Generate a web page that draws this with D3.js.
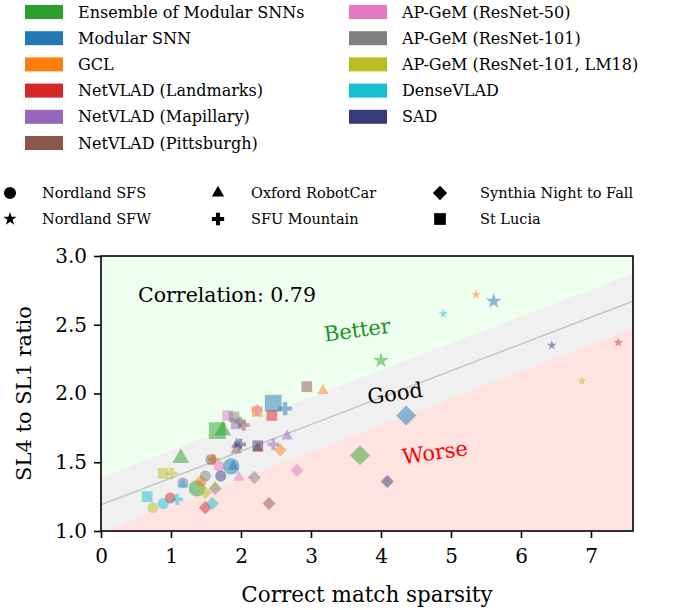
<!DOCTYPE html>
<html>
<head>
<meta charset="utf-8">
<script src="https://cdn.jsdelivr.net/npm/d3@7"></script>
<style>
  body { margin: 0; background: #fff; }
  text { font-family: "DejaVu Serif", serif; }
</style>
</head>
<body>
<div id="chart"></div>
<script>
// methods (colour legend)
const methods = ["Ensemble of Modular SNNs", "Modular SNN", "GCL", "NetVLAD (Landmarks)",
    "NetVLAD (Mapillary)", "NetVLAD (Pittsburgh)", "AP-GeM (ResNet-50)", "AP-GeM (ResNet-101)",
    "AP-GeM (ResNet-101, LM18)", "DenseVLAD", "SAD"];
const methodColors = ["#2ca02c", "#1f77b4", "#ff7f0e", "#d62728", "#9467bd", "#8c564b",
    "#e377c2", "#7f7f7f", "#bcbd22", "#17becf", "#393b79"];

// datasets (shape legend), listed row by row
const datasets = ["Nordland SFS", "Oxford RobotCar", "Synthia Night to Fall",
    "Nordland SFW", "SFU Mountain", "St Lucia"];

const xTicks = [0, 1, 2, 3, 4, 5, 6, 7];
const yTicks = [1.0, 1.5, 2.0, 2.5, 3.0];

// fit line
const fitIntercept = 1.19, fitSlope = 0.195, bandHalf = 0.2;
const correlation = 0.79;

// [method index, dataset, sparsity, ratio]
const points = [
    [0, "Nordland SFW", 4.00, 2.24],
    [0, "Synthia Night to Fall", 3.70, 1.55],
    [0, "St Lucia", 1.66, 1.73],
    [0, "Oxford RobotCar", 1.74, 1.73],
    [0, "Oxford RobotCar", 1.14, 1.53],
    [0, "Nordland SFS", 1.37, 1.31],
    [1, "Nordland SFW", 5.61, 2.67],
    [1, "Synthia Night to Fall", 4.36, 1.84],
    [1, "St Lucia", 2.46, 1.93],
    [1, "Nordland SFS", 1.86, 1.47],
    [1, "SFU Mountain", 2.63, 1.89],
    [1, "Oxford RobotCar", 1.89, 1.47],
    [2, "Nordland SFW", 5.36, 2.72],
    [2, "Oxford RobotCar", 3.17, 2.02],
    [2, "Synthia Night to Fall", 2.56, 1.59],
    [2, "St Lucia", 2.23, 1.87],
    [2, "Nordland SFS", 1.43, 1.36],
    [2, "SFU Mountain", 1.61, 1.52],
    [3, "Nordland SFW", 7.39, 2.37],
    [3, "St Lucia", 2.44, 1.84],
    [3, "Oxford RobotCar", 2.24, 1.60],
    [3, "Synthia Night to Fall", 1.49, 1.17],
    [3, "Nordland SFS", 0.99, 1.24],
    [4, "Oxford RobotCar", 2.66, 1.69],
    [4, "SFU Mountain", 2.46, 1.63],
    [4, "Synthia Night to Fall", 1.63, 1.31],
    [4, "Nordland SFS", 1.17, 1.35],
    [4, "St Lucia", 1.93, 1.78],
    [5, "St Lucia", 2.94, 2.05],
    [5, "Synthia Night to Fall", 2.40, 1.20],
    [5, "Nordland SFS", 1.57, 1.52],
    [5, "SFU Mountain", 2.04, 1.77],
    [5, "Oxford RobotCar", 1.93, 1.59],
    [6, "Synthia Night to Fall", 2.80, 1.44],
    [6, "Oxford RobotCar", 1.97, 1.39],
    [6, "Nordland SFS", 1.69, 1.47],
    [6, "St Lucia", 1.81, 1.84],
    [6, "SFU Mountain", 2.23, 1.88],
    [7, "Synthia Night to Fall", 2.19, 1.39],
    [7, "Nordland SFS", 1.49, 1.40],
    [7, "St Lucia", 1.90, 1.83],
    [7, "SFU Mountain", 1.99, 1.79],
    [8, "Nordland SFW", 6.87, 2.09],
    [8, "St Lucia", 0.89, 1.42],
    [8, "SFU Mountain", 1.01, 1.42],
    [8, "Nordland SFS", 0.74, 1.17],
    [8, "Synthia Night to Fall", 1.49, 1.28],
    [8, "Oxford RobotCar", 1.63, 1.32],
    [9, "Nordland SFW", 4.89, 2.58],
    [9, "St Lucia", 0.66, 1.25],
    [9, "Nordland SFS", 0.89, 1.20],
    [9, "SFU Mountain", 1.09, 1.23],
    [9, "Synthia Night to Fall", 1.59, 1.20],
    [9, "Oxford RobotCar", 1.17, 1.34],
    [10, "Nordland SFW", 6.44, 2.35],
    [10, "Synthia Night to Fall", 4.09, 1.36],
    [10, "Nordland SFS", 1.71, 1.40],
    [10, "St Lucia", 2.24, 1.62],
    [10, "Oxford RobotCar", 1.94, 1.63],
    [10, "SFU Mountain", 1.99, 1.63]
];

const WIDTH = 673, HEIGHT = 610;
const plot = { left: 101, right: 633, top: 256, bottom: 531 };

const svg = d3.select("#chart").append("svg")
    .attr("width", WIDTH).attr("height", HEIGHT);

const x = d3.scaleLinear().domain([0, 7.6]).range([plot.left, plot.right]);
const y = d3.scaleLinear().domain([1.0, 3.0]).range([plot.bottom, plot.top]);

// symbol per dataset, normal and large area
const shapeInfo = {
    "Nordland SFS": { type: d3.symbolCircle, size: 95, big: 210 },
    "Nordland SFW": { type: d3.symbolStar, size: 30, big: 78 },
    "Oxford RobotCar": { type: d3.symbolTriangle, size: 55, big: 125 },
    "SFU Mountain": { type: d3.symbolCross, size: 70, big: 100 },
    "Synthia Night to Fall": { type: d3.symbolSquare, size: 85, big: 200, rot: 45 },
    "St Lucia": { type: d3.symbolSquare, size: 115, big: 280 }
};

// ---- background regions ----
svg.append("clipPath").attr("id", "plotClip")
    .append("rect")
    .attr("x", plot.left).attr("y", plot.top)
    .attr("width", plot.right - plot.left).attr("height", plot.bottom - plot.top);

const regions = svg.append("g").attr("clip-path", "url(#plotClip)");
const xs = [0, 7.6];
const lineAt = (v, off) => fitIntercept + fitSlope * v + off;

regions.append("rect")
    .attr("x", plot.left).attr("y", plot.top)
    .attr("width", plot.right - plot.left).attr("height", plot.bottom - plot.top)
    .attr("fill", "#efffef");

const poly = (off) => [[x(xs[0]), y(lineAt(xs[0], off))], [x(xs[1]), y(lineAt(xs[1], off))],
    [x(xs[1]), plot.bottom + 5], [x(xs[0]), plot.bottom + 5]];

regions.append("polygon")
    .attr("points", poly(bandHalf).map(p => p.join(",")).join(" "))
    .attr("fill", "#f0f0f0");
regions.append("polygon")
    .attr("points", poly(-bandHalf).map(p => p.join(",")).join(" "))
    .attr("fill", "#ffe3e0");

regions.append("line")
    .attr("x1", x(xs[0])).attr("y1", y(lineAt(xs[0], 0)))
    .attr("x2", x(xs[1])).attr("y2", y(lineAt(xs[1], 0)))
    .attr("stroke", "#c4c4c4").attr("stroke-width", 1.5);

// ---- region labels ----
const labelAngle = -8;
const regionLabels = [
    { text: "Better", vx: 3.66, vy: 2.46, color: "#1a961a" },
    { text: "Good", vx: 4.20, vy: 2.00, color: "#000" },
    { text: "Worse", vx: 4.77, vy: 1.57, color: "#ff0000" }
];
svg.append("g").selectAll("text")
    .data(regionLabels)
    .join("text")
    .attr("transform", d => `translate(${x(d.vx)},${y(d.vy)}) rotate(${labelAngle})`)
    .attr("text-anchor", "middle")
    .attr("dominant-baseline", "central")
    .attr("font-size", 21)
    .attr("fill", d => d.color)
    .text(d => d.text);

svg.append("text")
    .attr("x", 138).attr("y", 302)
    .attr("font-size", 20.5)
    .text(`Correlation: ${correlation}`);

// ---- points ----
const symbolPath = (d) => {
    const info = shapeInfo[d[1]];
    const big = d[0] <= 1 && !(d[0] === 1 && d[1] === "Oxford RobotCar");
    return d3.symbol().type(info.type).size(big ? info.big : info.size)();
};

svg.append("g").selectAll("path")
    .data(points)
    .join("path")
    .attr("d", symbolPath)
    .attr("transform", d => {
        const rot = shapeInfo[d[1]].rot || 0;
        return `translate(${x(d[2])},${y(d[3])}) rotate(${rot})`;
    })
    .attr("fill", d => methodColors[d[0]])
    .attr("fill-opacity", 0.5);

// ---- axes ----
const axisX = d3.axisBottom(x).tickValues(xTicks).tickFormat(d3.format("d"))
    .tickSize(7).tickPadding(11);
const axisY = d3.axisLeft(y).tickValues(yTicks).tickFormat(d3.format(".1f"))
    .tickSize(7).tickPadding(7);

const gx = svg.append("g").attr("transform", `translate(0,${plot.bottom})`).call(axisX);
const gy = svg.append("g").attr("transform", `translate(${plot.left},0)`).call(axisY);
[gx, gy].forEach(g => {
    g.select(".domain").remove();
    g.selectAll(".tick line").attr("stroke", "#000").attr("stroke-width", 1.6);
    g.selectAll(".tick text").attr("font-size", 20).attr("fill", "#000")
        .attr("font-family", "DejaVu Serif");
});

svg.append("rect")
    .attr("x", plot.left).attr("y", plot.top)
    .attr("width", plot.right - plot.left).attr("height", plot.bottom - plot.top)
    .attr("fill", "none").attr("stroke", "#000").attr("stroke-width", 1.6);

svg.append("text")
    .attr("x", (plot.left + plot.right) / 2).attr("y", 602)
    .attr("text-anchor", "middle").attr("font-size", 21.5)
    .text("Correct match sparsity");

svg.append("text")
    .attr("transform", `translate(31,${(plot.top + plot.bottom) / 2}) rotate(-90)`)
    .attr("text-anchor", "middle").attr("font-size", 21)
    .text("SL4 to SL1 ratio");

// ---- colour legend ----
const colLegend = svg.append("g");
const legendItems = colLegend.selectAll("g")
    .data(methods)
    .join("g")
    .attr("transform", (d, i) => i < 6
        ? `translate(25,${12 + i * 26.2})`
        : `translate(349,${12 + (i - 6) * 26.2})`);
legendItems.append("rect")
    .attr("x", 0).attr("y", -7).attr("width", 38).attr("height", 14)
    .attr("fill", (d, i) => methodColors[i]);
legendItems.append("text")
    .attr("x", 53).attr("y", 0).attr("dominant-baseline", "central")
    .attr("font-size", 16)
    .text(d => d);

// ---- shape legend ----
const shapeLegend = svg.append("g");
const shapeCols = [[10, 42], [218, 251], [440, 480]];
const shapeItems = shapeLegend.selectAll("g")
    .data(datasets)
    .join("g")
    .attr("transform", (d, i) => `translate(0,${193 + Math.floor(i / 3) * 26})`);
shapeItems.append("path")
    .attr("d", d => d3.symbol().type(shapeInfo[d].type)
        .size(d === "Nordland SFW" ? 55 : shapeInfo[d].size * 1.2)())
    .attr("transform", (d, i) => `translate(${shapeCols[i % 3][0]},0) rotate(${shapeInfo[d].rot || 0})`)
    .attr("fill", "#000");
shapeItems.append("text")
    .attr("x", (d, i) => shapeCols[i % 3][1]).attr("y", 0)
    .attr("dominant-baseline", "central")
    .attr("font-size", 14.5)
    .text(d => d);
</script>
</body>
</html>
